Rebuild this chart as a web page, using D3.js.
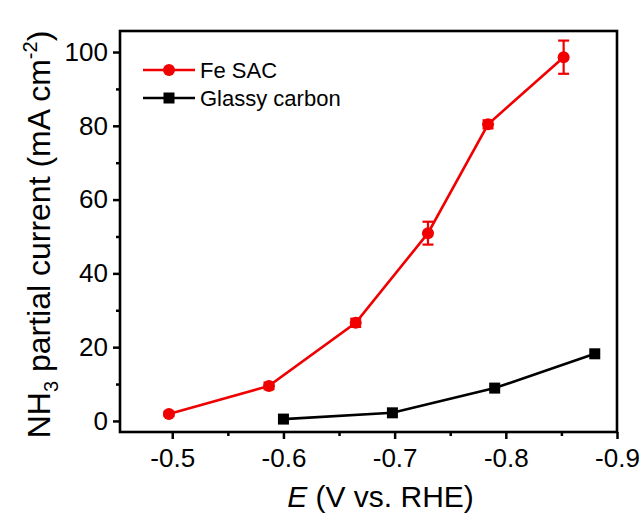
<!DOCTYPE html>
<html>
<head>
<meta charset="utf-8">
<script src="https://cdn.jsdelivr.net/npm/d3@7"></script>
<style>
  body { margin: 0; background: #fff; }
  svg { display: block; font-family: "Liberation Sans", Arial, sans-serif; }
</style>
</head>
<body>
<div id="chart"></div>
<script>
// data
const feE = [-0.497, -0.587, -0.665, -0.730, -0.784, -0.852]
const feJ = [1.9, 9.5, 26.6, 50.9, 80.4, 98.6]
const feErr = [0.6, 0.9, 1.1, 3.1, 1.1, 4.5]
const gcE = [-0.600, -0.698, -0.790, -0.880]
const gcJ = [0.5, 2.2, 8.9, 18.2]
const xTicks = [-0.5, -0.6, -0.7, -0.8, -0.9]
const yTicks = [0, 20, 40, 60, 80, 100]

const W = 643, H = 521
const MARGIN = { LEFT: 120, RIGHT: 26, TOP: 31, BOTTOM: 89 }
const WIDTH = W - MARGIN.LEFT - MARGIN.RIGHT
const HEIGHT = H - MARGIN.TOP - MARGIN.BOTTOM

const svg = d3.select("#chart").append("svg")
  .attr("width", W)
  .attr("height", H)

const g = svg.append("g")
  .attr("transform", `translate(${MARGIN.LEFT}, ${MARGIN.TOP})`)

const x = d3.scaleLinear().domain([-0.453, -0.9]).range([0, WIDTH])
const y = d3.scaleLinear().domain([-3, 105.7]).range([HEIGHT, 0])

// minor ticks first
g.append("g")
  .attr("transform", `translate(0, ${HEIGHT})`)
  .call(d3.axisBottom(x).tickValues([-0.55, -0.65, -0.75, -0.85]).tickSize(4).tickFormat(""))
g.append("g")
  .call(d3.axisLeft(y).tickValues([10, 30, 50, 70, 90]).tickSize(4).tickFormat(""))

const xAxis = g.append("g")
  .attr("transform", `translate(0, ${HEIGHT})`)
  .call(d3.axisBottom(x).tickValues(xTicks).tickSize(7).tickPadding(10))
xAxis.selectAll("text").attr("font-size", "26px").attr("fill", "#000")
  .text(d => d3.format(".1f")(d).replace("−", "-"))

const yAxis = g.append("g")
  .call(d3.axisLeft(y).tickValues(yTicks).tickSize(7).tickPadding(5))
yAxis.selectAll("text").attr("font-size", "26px").attr("fill", "#000")

g.selectAll(".domain").remove()
g.selectAll(".tick line").attr("stroke", "#000").attr("stroke-width", 2.5)

// frame
g.append("rect")
  .attr("width", WIDTH)
  .attr("height", HEIGHT)
  .attr("fill", "none")
  .attr("stroke", "#000")
  .attr("stroke-width", 2.6)

const line = d3.line()

// glassy carbon
const gc = gcE.map((e, i) => [x(e), y(gcJ[i])])
g.append("path")
  .attr("d", line(gc))
  .attr("fill", "none")
  .attr("stroke", "#000")
  .attr("stroke-width", 2.6)
g.selectAll(".gc")
  .data(gc)
  .enter().append("rect")
  .attr("x", d => d[0] - 5.5)
  .attr("y", d => d[1] - 5.5)
  .attr("width", 11)
  .attr("height", 11)
  .attr("fill", "#000")

// Fe SAC
const red = "#f00000"
const fe = feE.map((e, i) => [x(e), y(feJ[i])])
g.append("path")
  .attr("d", line(fe))
  .attr("fill", "none")
  .attr("stroke", red)
  .attr("stroke-width", 2.6)
const eb = g.selectAll(".err")
  .data(feE.map((e, i) => ({ x: x(e), lo: y(feJ[i] - feErr[i]), hi: y(feJ[i] + feErr[i]) })))
  .enter().append("g")
  .attr("stroke", red)
  .attr("stroke-width", 2.2)
eb.append("line").attr("x1", d => d.x).attr("x2", d => d.x).attr("y1", d => d.lo).attr("y2", d => d.hi)
eb.append("line").attr("x1", d => d.x - 5.5).attr("x2", d => d.x + 5.5).attr("y1", d => d.lo).attr("y2", d => d.lo)
eb.append("line").attr("x1", d => d.x - 5.5).attr("x2", d => d.x + 5.5).attr("y1", d => d.hi).attr("y2", d => d.hi)
g.selectAll(".fe")
  .data(fe)
  .enter().append("circle")
  .attr("cx", d => d[0])
  .attr("cy", d => d[1])
  .attr("r", 6)
  .attr("fill", red)

// legend
const legend = svg.append("g")
const items = [
  { name: "Fe SAC", color: red, y: 70, shape: "circle" },
  { name: "Glassy carbon", color: "#000", y: 98, shape: "square" }
]
items.forEach(it => {
  legend.append("line")
    .attr("x1", 143).attr("x2", 195)
    .attr("y1", it.y).attr("y2", it.y)
    .attr("stroke", it.color)
    .attr("stroke-width", 2.6)
  if (it.shape === "circle") {
    legend.append("circle").attr("cx", 169).attr("cy", it.y).attr("r", 6).attr("fill", it.color)
  } else {
    legend.append("rect").attr("x", 163.5).attr("y", it.y - 5.5).attr("width", 11).attr("height", 11).attr("fill", it.color)
  }
  legend.append("text")
    .attr("x", 200)
    .attr("y", it.y + 8)
    .attr("font-size", "22px")
    .text(it.name)
})

// X label
const xl = svg.append("text")
  .attr("x", MARGIN.LEFT + WIDTH / 2 + 12)
  .attr("y", 507)
  .attr("font-size", "30px")
  .attr("text-anchor", "middle")
xl.append("tspan").attr("font-style", "italic").text("E")
xl.append("tspan").text(" (V vs. RHE)")

// Y label
const yl = svg.append("text")
  .attr("transform", `translate(50, ${MARGIN.TOP + HEIGHT / 2 + 3}) rotate(-90)`)
  .attr("font-size", "32px")
  .attr("text-anchor", "middle")
yl.append("tspan").text("NH")
yl.append("tspan").attr("font-size", "20px").attr("dy", 8).text("3")
yl.append("tspan").attr("dy", -8).text(" partial current (mA cm")
yl.append("tspan").attr("font-size", "20px").attr("dy", -13).text("-2")
yl.append("tspan").attr("dy", 13).text(")")
</script>
</body>
</html>
